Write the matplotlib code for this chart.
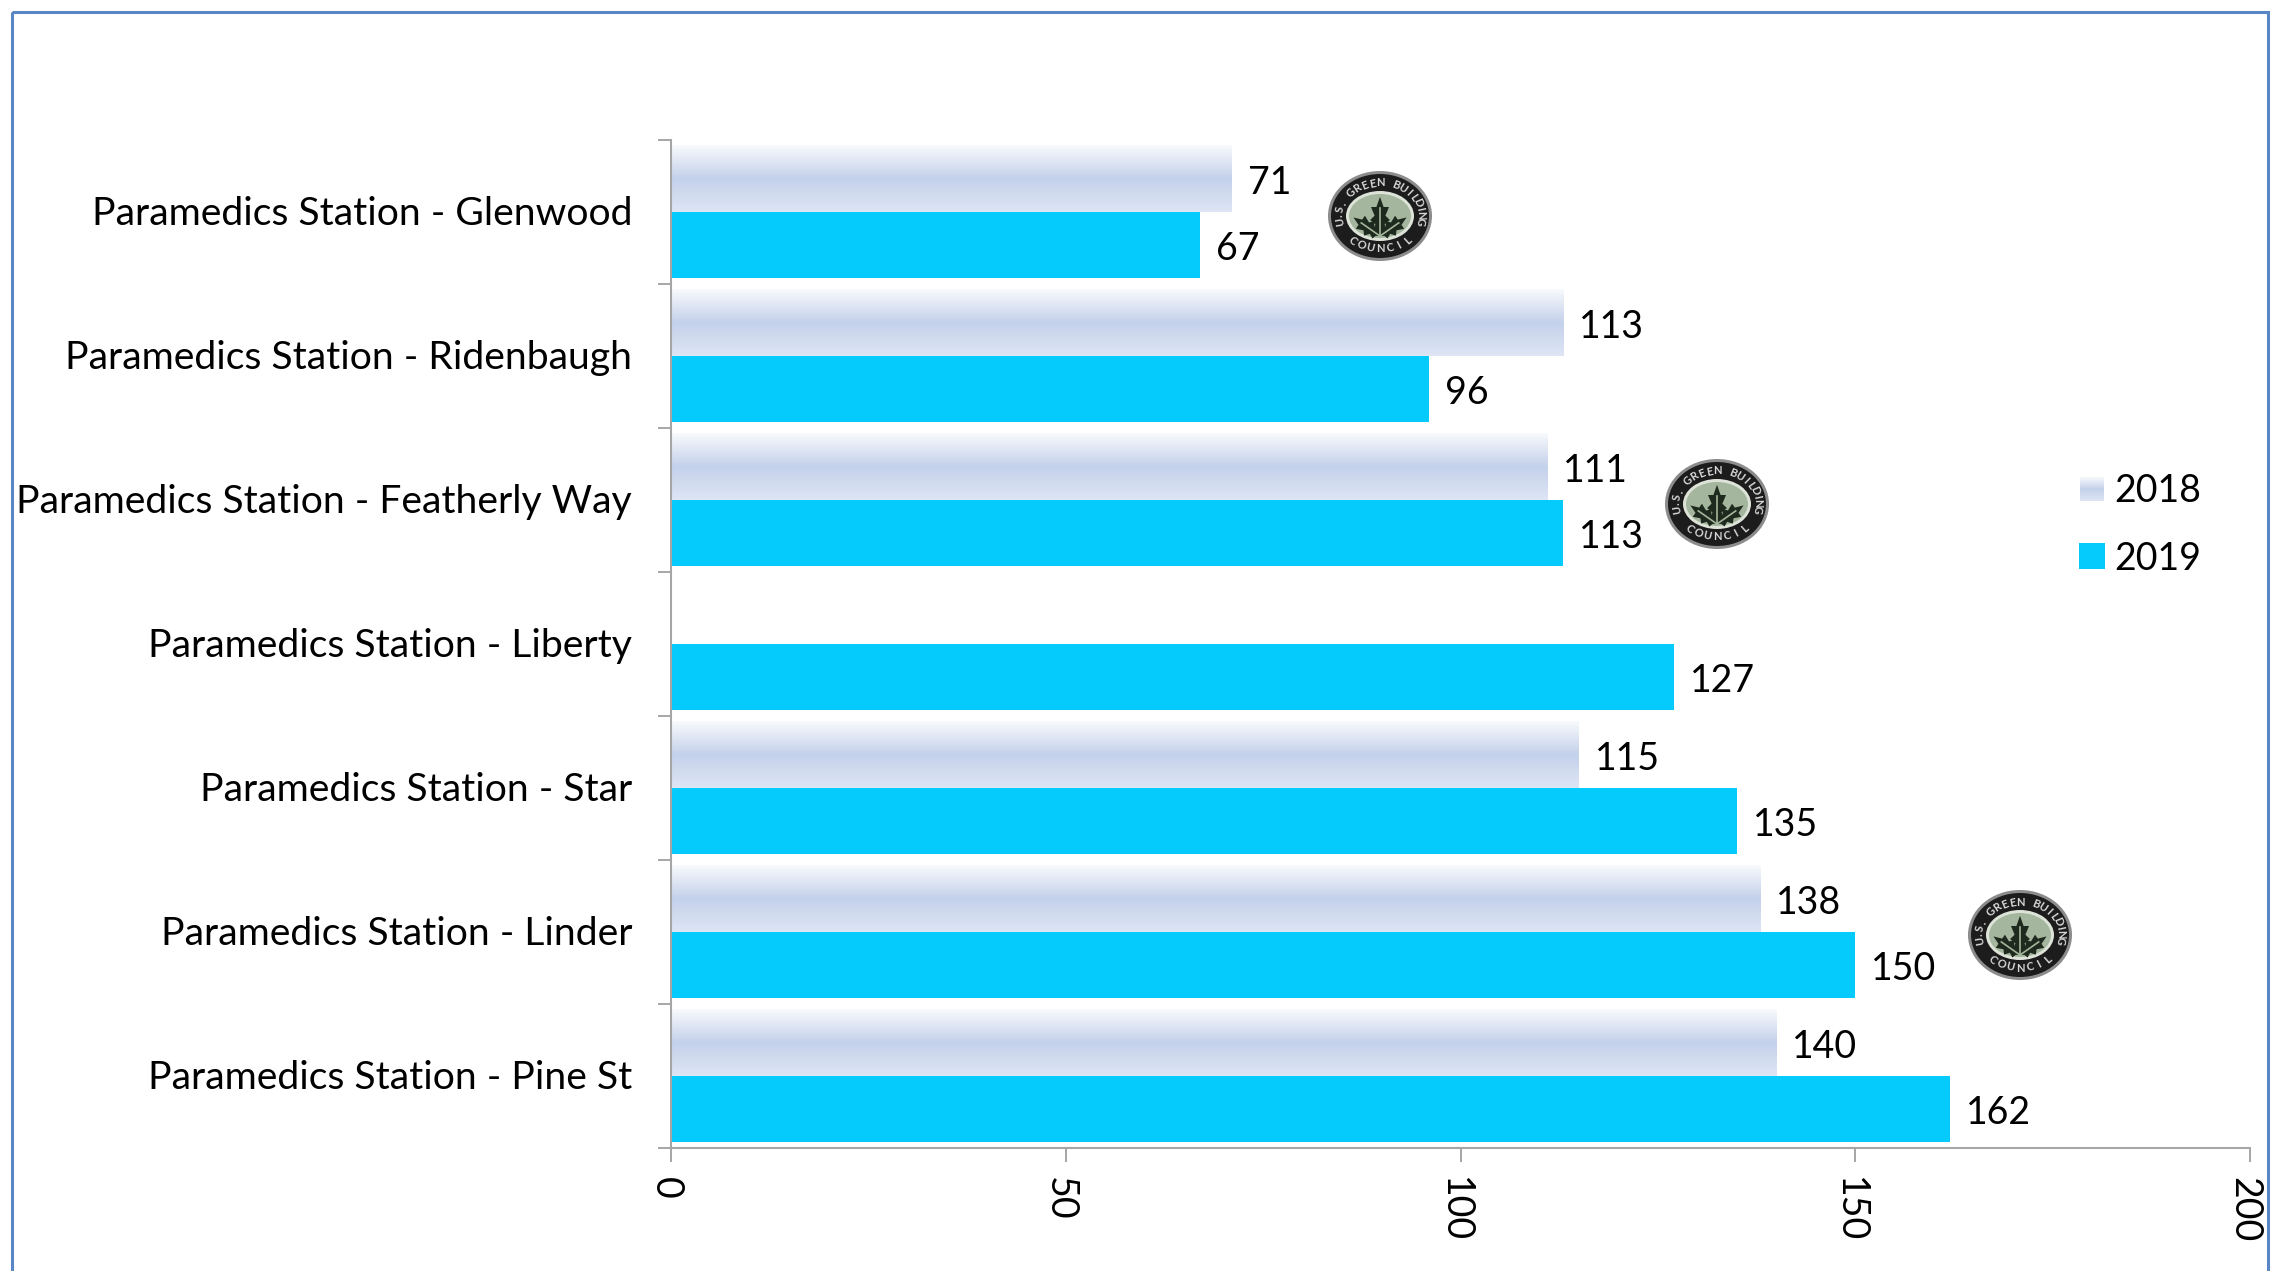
import numpy as np
import matplotlib
matplotlib.use('Agg')
import matplotlib.pyplot as plt
from matplotlib.patches import Ellipse, Polygon, Rectangle
from matplotlib.transforms import ScaledTranslation

W, H = 2282, 1271

stations = ['Paramedics Station - Pine St', 'Paramedics Station - Linder',
            'Paramedics Station - Star', 'Paramedics Station - Liberty',
            'Paramedics Station - Featherly Way', 'Paramedics Station - Ridenbaugh',
            'Paramedics Station - Glenwood']
values_2018 = [140, 138, 115, np.nan, 111, 113, 71]
values_2019 = [162, 150, 135, 127, 113, 96, 67]
x_ticks = [0, 50, 100, 150, 200]
badge_centres = [(1380, 216), (1717, 504), (2020, 935)]

FONT = 'Lato'
FS = 27
FS_CAT = 28.2
CYAN = '#05CBFC'
AXIS = '#A6A6A6'
BAR_H = 0.46

plt.rcParams['font.family'] = [FONT, 'DejaVu Sans']

# светлый градиент для столбцов 2018
grad_stops = [(0.0, (0.97, 0.98, 0.99)), (0.5, (0.77, 0.82, 0.92)), (1.0, (0.87, 0.90, 0.96))]
t = np.linspace(0, 1, 64)
grad = np.stack([np.interp(t, [s[0] for s in grad_stops], [s[1][k] for s in grad_stops])
                 for k in range(3)], axis=1)[:, None, :]

fig = plt.figure(figsize=(W / 100, H / 100), dpi=100)
ax = fig.add_axes([671 / W, 1 - 1148 / H, (2250 - 671) / W, (1148 - 140) / H])

y = np.arange(len(stations))
bars_18 = ax.barh(y + BAR_H / 2, values_2018, BAR_H, color='none')
bars_19 = ax.barh(y - BAR_H / 2, values_2019, BAR_H, color=CYAN)

for bar, val in zip(bars_18, values_2018):
    if np.isnan(val):
        continue
    bb = bar.get_bbox()
    ax.imshow(grad, extent=[bb.x0, bb.x1, bb.y0, bb.y1], aspect='auto', origin='upper', zorder=2)

for bars, vals in [(bars_18, values_2018), (bars_19, values_2019)]:
    for bar, val in zip(bars, vals):
        if np.isnan(val):
            continue
        ax.annotate(f'{val:d}', (val, bar.get_y() + bar.get_height() / 2), xytext=(11.5, -3),
                    textcoords='offset points', va='center', ha='left', fontsize=FS, color='black')

ax.set_xlim(0, 200)
ax.set_ylim(-0.5, len(stations) - 0.5)
ax.set_xticks(x_ticks)
ax.set_xticklabels([str(v) for v in x_ticks], rotation=-90, fontsize=FS)
ax.set_yticks(y)
ax.set_yticklabels(stations, fontsize=FS_CAT)
ax.set_yticks(np.arange(len(stations) + 1) - 0.5, minor=True)
ax.tick_params(axis='y', which='major', length=0, pad=28, labelcolor='black')
ax.tick_params(axis='y', which='minor', length=9.5, width=1.4, color=AXIS)
ax.tick_params(axis='x', length=10, width=1.4, color=AXIS, pad=11)
for side in ['top', 'right']:
    ax.spines[side].set_visible(False)
for side in ['left', 'bottom']:
    ax.spines[side].set_color(AXIS)
    ax.spines[side].set_linewidth(1.5)

# сдвиг подписей оси X и категорий
shift_x = ScaledTranslation(-4 / 72, 0, fig.dpi_scale_trans)
for lab in ax.get_xticklabels():
    lab.set_transform(lab.get_transform() + shift_x)
shift_y = ScaledTranslation(0, 1 / 72, fig.dpi_scale_trans)
for lab in ax.get_yticklabels():
    lab.set_transform(lab.get_transform() + shift_y)

# слой в пикселях: рамка, легенда, значки
ov = fig.add_axes([0, 0, 1, 1], facecolor='none')
ov.set_axis_off()
ov.add_patch(Rectangle((12, 12), 2256, 1300, fill=False, ec='#5B86C5', lw=2.2, clip_on=False))

ov.imshow(grad, extent=[2080, 2104, 501, 477], aspect='auto', origin='upper')
ov.add_patch(Rectangle((2079, 543), 26, 26, fc=CYAN, ec='none'))
ov.text(2114, 491, '2018', fontsize=FS, va='center', ha='left')
ov.text(2114, 559, '2019', fontsize=FS, va='center', ha='left')

leaf = np.array([(0, 0), (-3, -3), (-8, -4), (-5, -8), (-11, -11), (-6, -14), (-10, -20),
                 (-4, -20), (0, -27), (4, -20), (10, -20), (6, -14), (11, -11), (5, -8),
                 (8, -4), (3, -3)], dtype=float)


def draw_badge(cx, cy):
    rx, ry = 52, 45
    ov.add_patch(Ellipse((cx, cy), 2 * rx, 2 * ry, fc='#8C8C8C', ec='none'))
    ov.add_patch(Ellipse((cx, cy), 2 * rx - 6, 2 * ry - 6, fc='#1C1C1C', ec='none'))
    ov.add_patch(Ellipse((cx, cy), 68, 50, fc='#DDE3D8', ec='none'))
    ov.add_patch(Ellipse((cx, cy), 62, 44, fc='#A4B69D', ec='none'))
    base = np.array([cx, cy + 20.0])
    for ang, sx, sy in [(0, 0.9, 1.45), (-55, 0.8, 1.2), (55, 0.8, 1.2)]:
        a = np.radians(ang)
        rot = np.array([[np.cos(a), -np.sin(a)], [np.sin(a), np.cos(a)]])
        pts = (leaf * [sx, sy]) @ rot.T + base
        ov.add_patch(Polygon(pts, fc='#1E2A1E', ec='none'))
        tip = (np.array([0, -19.0]) * [sx, sy]) @ rot.T + base
        ov.plot([base[0], tip[0]], [base[1], tip[1]], color='#A4B69D', lw=1.2)
    # надпись по кругу
    top = 'U.S. GREEN BUILDING'
    for i, ch in enumerate(top):
        ang = np.radians(-100 + i * 200 / (len(top) - 1))
        ov.text(cx + 41 * np.sin(ang), cy - 33 * np.cos(ang), ch, fontsize=8,
                color='#D8D8D8', weight='bold', ha='center', va='center',
                rotation=-np.degrees(ang))
    bottom = 'COUNCIL'
    for i, ch in enumerate(bottom):
        ang = np.radians(-42 + i * 84 / (len(bottom) - 1))
        ov.text(cx + 41 * np.sin(ang), cy + 33 * np.cos(ang), ch, fontsize=8,
                color='#D8D8D8', weight='bold', ha='center', va='center',
                rotation=np.degrees(ang))


for cx, cy in badge_centres:
    draw_badge(cx, cy)

ov.set_xlim(0, W)
ov.set_ylim(H, 0)

fig.savefig('out.png', dpi=100, facecolor='white')
